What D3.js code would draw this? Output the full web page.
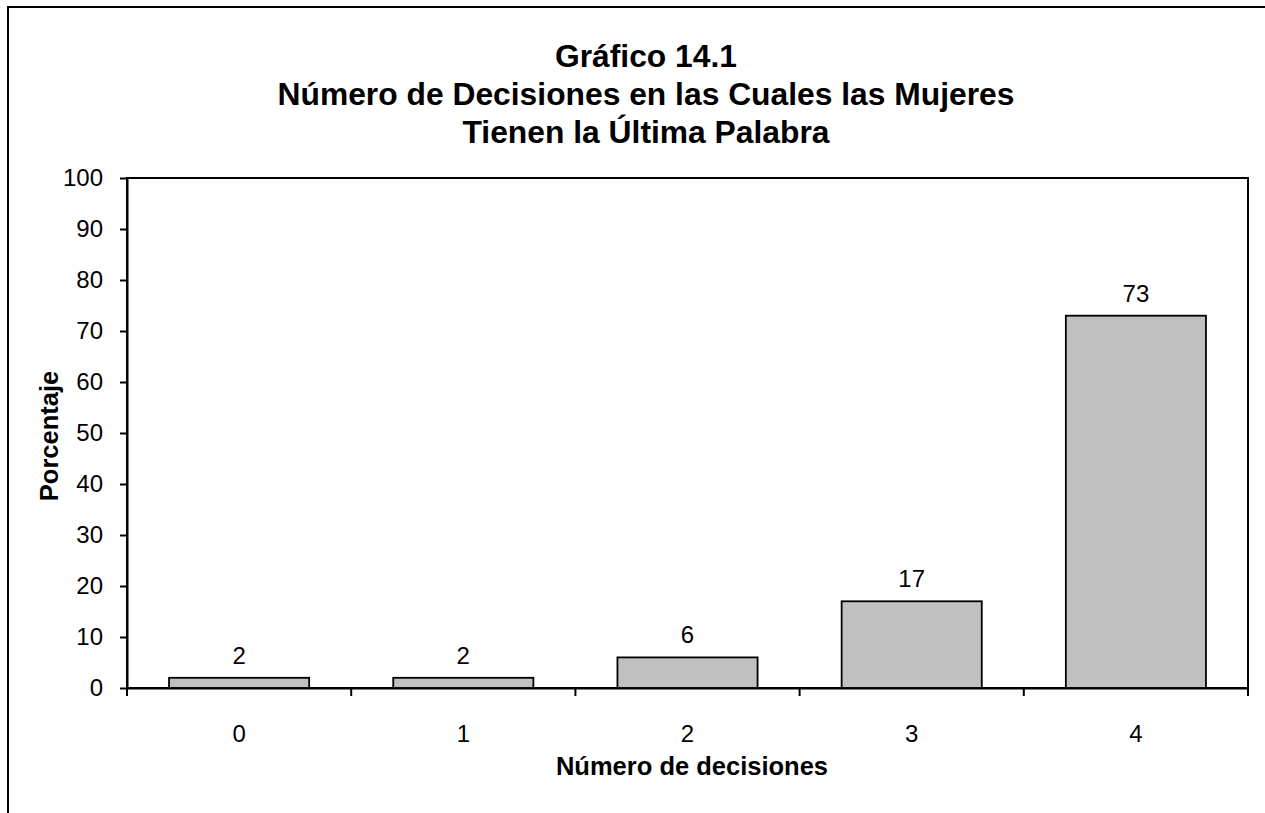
<!DOCTYPE html>
<html>
<head>
<meta charset="utf-8">
<script src="https://cdn.jsdelivr.net/npm/d3@7"></script>
<style>
  html, body { margin: 0; padding: 0; background: #fff; }
  svg { display: block; }
  text { font-family: "Liberation Sans", Arial, sans-serif; fill: #000; }
</style>
</head>
<body>
<svg id="chart" width="1265" height="813"></svg>
<script>
// Distribution of women by number of household decisions where they have the final say
const categories = ["0", "1", "2", "3", "4"];
const percentages = [2, 2, 6, 17, 73];
const yTicks = [0, 10, 20, 30, 40, 50, 60, 70, 80, 90, 100];
const titleLines = [
  "Gráfico 14.1",
  "Número de Decisiones en las Cuales las Mujeres",
  "Tienen la Última Palabra"
];
const xTitle = "Número de decisiones";
const yTitle = "Porcentaje";

const svg = d3.select("#chart");
const plot = { left: 127, top: 178, right: 1248, bottom: 688 };

// outer chart frame (runs past the right and bottom edges)
svg.append("rect")
  .attr("x", 8).attr("y", 7)
  .attr("width", 1400).attr("height", 1000)
  .attr("fill", "none").attr("stroke", "#000").attr("stroke-width", 2);

// title
svg.append("g").selectAll("text")
  .data(titleLines)
  .join("text")
  .attr("x", 646)
  .attr("y", (d, i) => 67 + i * 38)
  .attr("text-anchor", "middle")
  .attr("font-size", 31.8)
  .attr("font-weight", "bold")
  .text(d => d);

const x = d3.scaleBand()
  .domain(categories)
  .range([plot.left, plot.right])
  .paddingInner(0.375)
  .paddingOuter(0.1875);

const y = d3.scaleLinear()
  .domain([0, 100])
  .range([plot.bottom, plot.top]);

// plot area border
svg.append("rect")
  .attr("x", plot.left).attr("y", plot.top)
  .attr("width", plot.right - plot.left).attr("height", plot.bottom - plot.top)
  .attr("fill", "none").attr("stroke", "#000").attr("stroke-width", 2);

// bars
svg.append("g").selectAll("rect")
  .data(percentages)
  .join("rect")
  .attr("x", (d, i) => x(categories[i]))
  .attr("y", d => y(d))
  .attr("width", x.bandwidth())
  .attr("height", d => y(0) - y(d))
  .attr("fill", "#C0C0C0")
  .attr("stroke", "#000")
  .attr("stroke-width", 1.8);

// value labels
svg.append("g").selectAll("text")
  .data(percentages)
  .join("text")
  .attr("x", (d, i) => x(categories[i]) + x.bandwidth() / 2)
  .attr("y", d => y(d) - 14)
  .attr("text-anchor", "middle")
  .attr("font-size", 24)
  .text(d => d);

// y axis
const yAxis = svg.append("g")
  .attr("transform", `translate(${plot.left},0)`)
  .call(d3.axisLeft(y).tickValues(yTicks).tickSize(7).tickPadding(17).tickSizeOuter(0));
yAxis.select(".domain").attr("stroke-width", 2);
yAxis.selectAll(".tick line").attr("stroke-width", 2);
yAxis.selectAll(".tick text")
  .attr("font-size", 24)
  .attr("font-family", "Liberation Sans, Arial, sans-serif")
  .attr("fill", "#000");

// x axis: tick marks on category boundaries, labels centred under bars
const bounds = d3.range(categories.length + 1).map(i =>
  plot.left + i * (plot.right - plot.left) / categories.length);
const xAxis = svg.append("g")
  .attr("transform", `translate(0,${plot.bottom})`)
  .call(d3.axisBottom(x).tickSize(0).tickPadding(37).tickSizeOuter(0));
xAxis.select(".domain").attr("stroke-width", 2);
xAxis.selectAll(".tick text")
  .attr("font-size", 24)
  .attr("font-family", "Liberation Sans, Arial, sans-serif")
  .attr("fill", "#000");
xAxis.append("g").selectAll("line")
  .data(bounds)
  .join("line")
  .attr("x1", d => d).attr("x2", d => d)
  .attr("y1", 0).attr("y2", 8)
  .attr("stroke", "#000").attr("stroke-width", 2);

// axis titles
svg.append("text")
  .attr("x", 692).attr("y", 775)
  .attr("text-anchor", "middle")
  .attr("font-size", 25.5)
  .attr("font-weight", "bold")
  .text(xTitle);

svg.append("text")
  .attr("transform", "translate(58,436) rotate(-90)")
  .attr("text-anchor", "middle")
  .attr("font-size", 25.5)
  .attr("font-weight", "bold")
  .text(yTitle);
</script>
</body>
</html>
